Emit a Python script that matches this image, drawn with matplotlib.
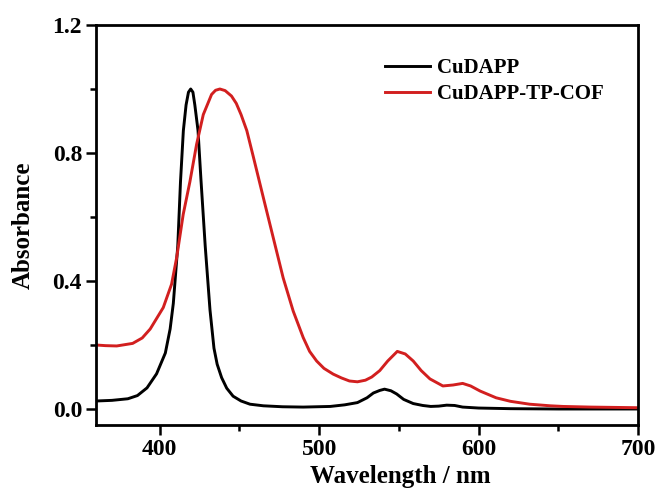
import matplotlib
matplotlib.use("Agg")
import matplotlib.pyplot as plt
from matplotlib.ticker import MultipleLocator, FormatStrFormatter

plt.rcParams.update({"font.family": ["Liberation Serif", "DejaVu Serif"], "font.weight": "bold"})

# CuDAPP (black)
wl_cu = [360, 370, 380, 386, 392, 398, 403.5, 406.5, 408.5, 411.3, 413, 414.8, 416.5, 418, 419.4, 420.8,
         422, 424, 425.8, 428.5, 431.5, 434, 436, 438.8, 442, 446, 451, 456.6, 465, 477, 490, 507, 516,
         524, 530, 534, 538, 541, 545, 548.6, 553, 559, 565, 570, 575, 580, 585, 590, 600, 620, 650, 680, 700]
ab_cu = [0.025, 0.027, 0.032, 0.042, 0.066, 0.11, 0.175, 0.25, 0.33, 0.51, 0.71, 0.87, 0.95, 0.99, 1.00, 0.99,
         0.95, 0.87, 0.72, 0.51, 0.31, 0.19, 0.14, 0.098, 0.065, 0.04, 0.025, 0.015, 0.01, 0.007, 0.006, 0.008,
         0.013, 0.02, 0.035, 0.05, 0.058, 0.062, 0.057, 0.047, 0.03, 0.017, 0.011, 0.008, 0.009, 0.012, 0.011,
         0.006, 0.003, 0.001, 0.0, 0.0, 0.0]

# CuDAPP-TP-COF (red)
wl_cof = [360, 366, 373, 383, 389, 394, 402.2, 407.4, 410.6, 414.7, 418.9, 423.1, 427.3, 432.5, 435, 437.7,
          441, 445, 448, 451, 454.6, 458.6, 465, 471.2, 477.4, 483.7, 490, 494, 498.4, 503, 508.8, 514, 519,
          524, 529, 533, 538, 543, 549, 554, 559, 564, 569.5, 577.6, 584, 590, 595, 601, 611, 620, 632, 645,
          653, 670, 685, 700]
ab_cof = [0.20, 0.198, 0.197, 0.205, 0.222, 0.25, 0.317, 0.39, 0.473, 0.608, 0.71, 0.827, 0.92, 0.983, 0.996,
          1.00, 0.995, 0.978, 0.955, 0.92, 0.87, 0.79, 0.66, 0.535, 0.41, 0.306, 0.223, 0.18, 0.15, 0.127,
          0.109, 0.097, 0.0875, 0.085, 0.09, 0.1, 0.12, 0.15, 0.18, 0.172, 0.15, 0.12, 0.094, 0.072, 0.075,
          0.08, 0.072, 0.056, 0.035, 0.024, 0.015, 0.01, 0.008, 0.006, 0.005, 0.004]

fig = plt.figure(figsize=(6.58, 4.95), dpi=100)
ax = fig.add_axes([96 / 658, 1 - 425 / 495, (638 - 96) / 658, (425 - 25) / 495])

ax.plot(wl_cu, ab_cu, color="black", lw=2.1, label="CuDAPP")
ax.plot(wl_cof, ab_cof, color="#d21f1f", lw=2.1, label="CuDAPP-TP-COF")

ax.set_xlim(360, 700)
ax.set_ylim(-0.05, 1.2)
ax.xaxis.set_major_locator(MultipleLocator(100))
ax.xaxis.set_minor_locator(MultipleLocator(50))
ax.yaxis.set_major_locator(MultipleLocator(0.4))
ax.yaxis.set_minor_locator(MultipleLocator(0.2))
ax.yaxis.set_major_formatter(FormatStrFormatter("%.1f"))
ax.tick_params(which="both", direction="out", width=1.8, labelsize=17, top=False, right=False)
ax.tick_params(which="major", length=7, pad=3)
ax.tick_params(which="minor", length=4)
for s in ax.spines.values():
    s.set_linewidth(2.0)

ax.set_xlabel("Wavelength / nm", fontsize=18, fontweight="bold", labelpad=4)
ax.xaxis.set_label_coords((400 - 96) / 542, -0.1)
ax.set_ylabel("Absorbance", fontsize=18, fontweight="bold", labelpad=13)

ax.legend(loc="upper left", bbox_to_anchor=(0.533, 0.9175), frameon=False,
          prop={"size": 15, "weight": "bold"}, handlelength=2.15, handletextpad=0.34,
          labelspacing=0.3, borderpad=0, borderaxespad=0)

fig.savefig("out.png", dpi=100)
